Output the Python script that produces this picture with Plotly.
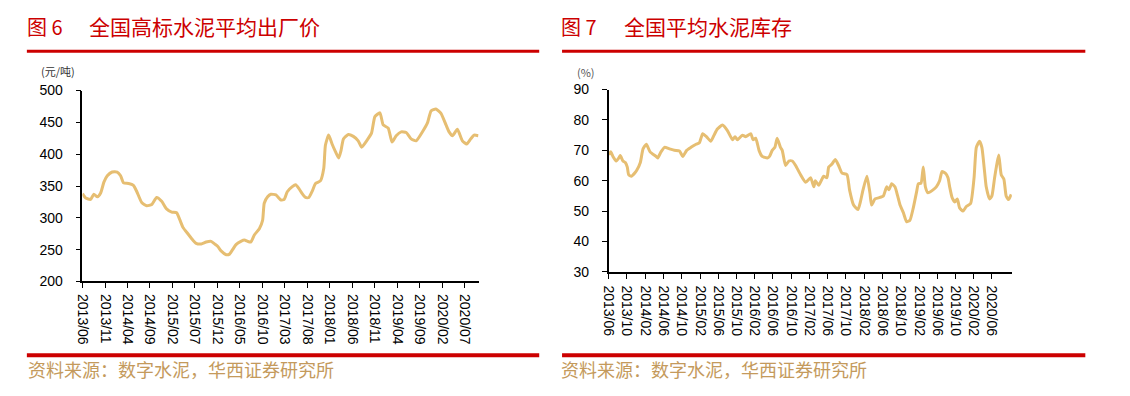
import plotly.graph_objects as go

W, H = 1130, 396

# ---------------- data ----------------
price_dates = [
    "2013-06-01", "2013-06-23", "2013-07-26", "2013-08-17", "2013-09-10", "2013-10-02",
    "2013-10-24", "2013-11-16", "2013-12-19", "2014-01-22", "2014-02-14", "2014-03-06",
    "2014-04-09", "2014-05-12", "2014-06-04", "2014-07-07", "2014-08-10", "2014-09-13",
    "2014-10-16", "2014-11-19", "2014-12-22", "2015-01-26", "2015-02-28", "2015-03-20",
    "2015-04-12", "2015-05-15", "2015-06-18", "2015-07-10", "2015-08-14", "2015-09-16",
    "2015-10-20", "2015-11-12", "2015-12-04", "2015-12-26", "2016-01-30", "2016-02-21",
    "2016-03-13", "2016-04-05", "2016-05-08", "2016-06-01", "2016-06-23", "2016-07-15",
    "2016-08-07", "2016-09-10", "2016-10-02", "2016-10-13", "2016-11-05", "2016-11-27",
    "2016-12-31", "2017-02-03", "2017-02-25", "2017-03-18", "2017-04-21", "2017-05-13",
    "2017-06-05", "2017-06-27", "2017-07-19", "2017-08-11", "2017-09-03", "2017-09-25",
    "2017-10-28", "2017-11-20", "2017-12-01", "2017-12-23", "2018-01-15", "2018-02-07",
    "2018-03-01", "2018-03-17", "2018-04-02", "2018-05-05", "2018-06-08", "2018-07-11",
    "2018-08-03", "2018-09-06", "2018-10-09", "2018-11-01", "2018-12-05", "2018-12-27",
    "2019-01-30", "2019-02-25", "2019-03-25", "2019-04-28", "2019-06-01", "2019-07-04",
    "2019-08-07", "2019-09-21", "2019-10-24", "2019-11-16", "2019-12-19", "2020-01-22",
    "2020-02-25", "2020-03-17", "2020-04-09", "2020-05-12", "2020-06-15", "2020-07-14",
    "2020-08-10", "2020-09-02", "2020-10-01",
]
price_values = [
    338, 331, 329, 337, 333, 339,
    356, 366, 372, 372, 366, 355,
    354, 351, 341, 324, 319, 321,
    332, 326, 314, 309, 308, 298,
    285, 275, 265, 260, 259, 262,
    263, 259, 255, 248, 242, 243,
    250, 258, 263, 265, 263, 262,
    273, 283, 296, 323, 333, 337,
    336, 328, 329, 341, 349, 352,
    346, 338, 332, 332, 342, 354,
    358, 378, 414, 430, 416, 404,
    394, 406, 424, 431, 428, 421,
    411, 421, 433, 459, 465, 446,
    441, 419, 429, 435, 434, 424,
    421, 436, 450, 468, 471, 464,
    446, 435, 429, 439, 421, 416,
    424, 430, 429,
]
price_ticks = ["2013/06", "2013/11", "2014/04", "2014/09", "2015/02", "2015/07",
               "2015/12", "2016/05", "2016/10", "2017/03", "2017/08", "2018/01",
               "2018/06", "2018/11", "2019/04", "2019/09", "2020/02", "2020/07"]

stock_dates = [
    "2013-06-01", "2013-06-14", "2013-06-29", "2013-07-21", "2013-08-08", "2013-08-17",
    "2013-09-04", "2013-09-20", "2013-10-03", "2013-10-12", "2013-10-30", "2013-11-21",
    "2013-12-06", "2013-12-29", "2014-01-16", "2014-02-07", "2014-03-04", "2014-04-13",
    "2014-04-24", "2014-05-16", "2014-06-08", "2014-07-11", "2014-08-13", "2014-09-16",
    "2014-10-08", "2014-11-03", "2014-12-02", "2015-01-05", "2015-01-27", "2015-02-18",
    "2015-03-15", "2015-04-13", "2015-05-05", "2015-05-27", "2015-06-30", "2015-08-02",
    "2015-09-05", "2015-09-22", "2015-10-08", "2015-11-10", "2015-12-02", "2016-01-05",
    "2016-01-20", "2016-02-07", "2016-02-29", "2016-03-21", "2016-04-24", "2016-05-09",
    "2016-05-27", "2016-06-14", "2016-06-29", "2016-07-21", "2016-08-02", "2016-08-24",
    "2016-09-15", "2016-10-08", "2016-10-30", "2016-12-02", "2017-01-05", "2017-02-07",
    "2017-03-01", "2017-03-11", "2017-04-02", "2017-05-05", "2017-05-27", "2017-06-08",
    "2017-06-30", "2017-07-22", "2017-08-13", "2017-09-05", "2017-10-08", "2017-10-25",
    "2017-11-21", "2017-12-20", "2018-01-05", "2018-01-23", "2018-02-18", "2018-03-10",
    "2018-03-21", "2018-04-13", "2018-05-16", "2018-06-08", "2018-06-30", "2018-07-15",
    "2018-08-02", "2018-08-24", "2018-09-11", "2018-09-27", "2018-10-19", "2018-11-10",
    "2018-12-02", "2018-12-24", "2019-01-16", "2019-01-27", "2019-02-14", "2019-03-01",
    "2019-03-15", "2019-04-02", "2019-05-05", "2019-05-27", "2019-06-18", "2019-07-04",
    "2019-07-26", "2019-08-13", "2019-08-24", "2019-09-09", "2019-09-27", "2019-10-14",
    "2019-10-30", "2019-11-21", "2019-12-13", "2020-01-11", "2020-02-03", "2020-02-18",
    "2020-03-10", "2020-03-26", "2020-04-13", "2020-04-24", "2020-05-16", "2020-06-01",
    "2020-06-19", "2020-07-06", "2020-07-17", "2020-08-02", "2020-08-20", "2020-09-04",
    "2020-09-20", "2020-10-08",
]
stock_values = [
    68.5, 69.5, 68.0, 66.5, 67.5, 68.3,
    66.5, 66.0, 64.5, 62.0, 61.5, 62.5,
    63.5, 66.0, 70.5, 72.0, 69.5, 68.0,
    67.5, 69.5, 71.0, 70.5, 70.0, 69.8,
    68.0, 70.0, 71.0, 72.0, 72.5, 75.5,
    74.5, 73.0, 75.0, 77.0, 78.3, 76.5,
    73.5, 74.5, 73.5, 75.0, 74.5, 75.5,
    73.5, 74.0, 70.0, 68.0, 67.5, 68.0,
    70.0, 71.0, 74.0, 71.0, 70.0, 65.0,
    66.5, 66.5, 65.0, 62.0, 59.5, 61.0,
    58.0, 60.0, 58.5, 61.5, 61.0, 64.5,
    65.5, 67.0, 65.0, 62.5, 62.0, 57.0,
    52.0, 50.5, 53.0, 57.0, 61.5, 56.0,
    52.0, 54.0, 54.5, 55.0, 58.0, 57.0,
    59.0, 58.0, 55.0, 52.0, 49.5, 46.5,
    47.0, 51.0, 56.5, 59.0, 59.2, 64.5,
    58.0, 56.0, 57.0, 58.0, 60.0, 63.0,
    62.5, 61.0, 58.0, 54.5, 53.0, 54.0,
    51.0, 50.0, 51.5, 52.5, 61.0, 71.0,
    73.0, 71.0, 63.0, 58.0, 54.0, 55.0,
    61.0, 66.0, 68.5, 62.0, 60.5, 55.0,
    53.8, 55.5,
]
stock_ticks = ["2013/06", "2013/10", "2014/02", "2014/06", "2014/10", "2015/02",
               "2015/06", "2015/10", "2016/02", "2016/06", "2016/10", "2017/02",
               "2017/06", "2017/10", "2018/02", "2018/06", "2018/10", "2019/02",
               "2019/06", "2019/10", "2020/02", "2020/06"]

LINE_COLOR = "#E6BE72"
RED = "#CC0000"
SRC_COLOR = "#C49A5C"
CJK = "Noto Sans CJK SC"
LAT = "Liberation Sans, Arial, sans-serif"


def px(x):
    return x / W


def py(y):
    return 1 - y / H


def tickvals(labels):
    return [lab.replace("/", "-") + "-01" for lab in labels]


fig = go.Figure()
fig.add_trace(go.Scatter(x=price_dates, y=price_values, mode="lines",
                         line=dict(color=LINE_COLOR, width=3, shape="spline", smoothing=0.5),
                         xaxis="x", yaxis="y", showlegend=False, hoverinfo="skip"))
fig.add_trace(go.Scatter(x=stock_dates, y=stock_values, mode="lines",
                         line=dict(color=LINE_COLOR, width=3, shape="spline", smoothing=0.5),
                         xaxis="x2", yaxis="y2", showlegend=False, hoverinfo="skip"))

axis_common = dict(showgrid=False, zeroline=False, showline=True, linecolor="black",
                   linewidth=1.5, ticks="outside", tickcolor="black", tickwidth=1.2,
                   tickfont=dict(family=LAT, size=14, color="black"))

fig.update_layout(
    width=W, height=H, margin=dict(l=0, r=0, t=0, b=0),
    paper_bgcolor="white", plot_bgcolor="white", showlegend=False,
    xaxis=dict(domain=[px(75), px(474)], anchor="y", type="date",
               range=["2013-06-01", "2020-10-03"],
               tickmode="array", tickvals=tickvals(price_ticks), ticktext=price_ticks,
               tickangle=90, ticklen=5, ticklabelstandoff=3, **axis_common),
    yaxis=dict(domain=[py(285), py(86)], anchor="x", range=[200, 500],
               tickmode="array", tickvals=[200, 250, 300, 350, 400, 450, 500],
               ticklen=5, ticklabelstandoff=10, **axis_common),
    xaxis2=dict(domain=[px(605), px(1011)], anchor="y2", type="date",
                range=["2013-06-01", "2020-10-12"],
                tickmode="array", tickvals=tickvals(stock_ticks), ticktext=stock_ticks,
                tickangle=90, ticklen=5, ticklabelstandoff=4, **axis_common),
    yaxis2=dict(domain=[py(275), py(85)], anchor="x2", range=[30, 90],
                tickmode="array", tickvals=[30, 40, 50, 60, 70, 80, 90],
                ticklen=5, ticklabelstandoff=10, **axis_common),
)

# red rules
shapes = []
for x0, x1 in [(19, 535), (558, 1085)]:
    shapes.append(dict(type="line", xref="paper", yref="paper", x0=px(x0), x1=px(x1),
                       y0=py(45), y1=py(45), line=dict(color=RED, width=3)))
    shapes.append(dict(type="line", xref="paper", yref="paper", x0=px(x0), x1=px(x1),
                       y0=py(362), y1=py(362), line=dict(color=RED, width=4)))
fig.update_layout(shapes=shapes)

ann = []


def text(x, y, s, size, color, family=CJK, anchor="left"):
    ann.append(dict(x=px(x), y=py(y), xref="paper", yref="paper", text=s, showarrow=False,
                    xanchor=anchor, yanchor="middle",
                    font=dict(family=family, size=size, color=color)))


text(17, 19, "图 6", 20, RED)
text(80, 19, "全国高标水泥平均出厂价", 21, RED)
text(555, 19, "图 7", 20, RED)
text(618, 19, "全国平均水泥库存", 21, RED)
text(31, 66, "(元/吨)", 11, "#333333")
text(571, 67, "(%)", 11, "#555555")
text(18, 376, "资料来源：数字水泥，华西证券研究所", 18, SRC_COLOR)
text(555, 376, "资料来源：数字水泥，华西证券研究所", 18, SRC_COLOR)
fig.update_layout(annotations=ann)

fig.write_html("out.html", config={"displayModeBar": False},
               post_script="document.body.style.margin='0';"
                           "document.body.style.overflow='hidden';")
